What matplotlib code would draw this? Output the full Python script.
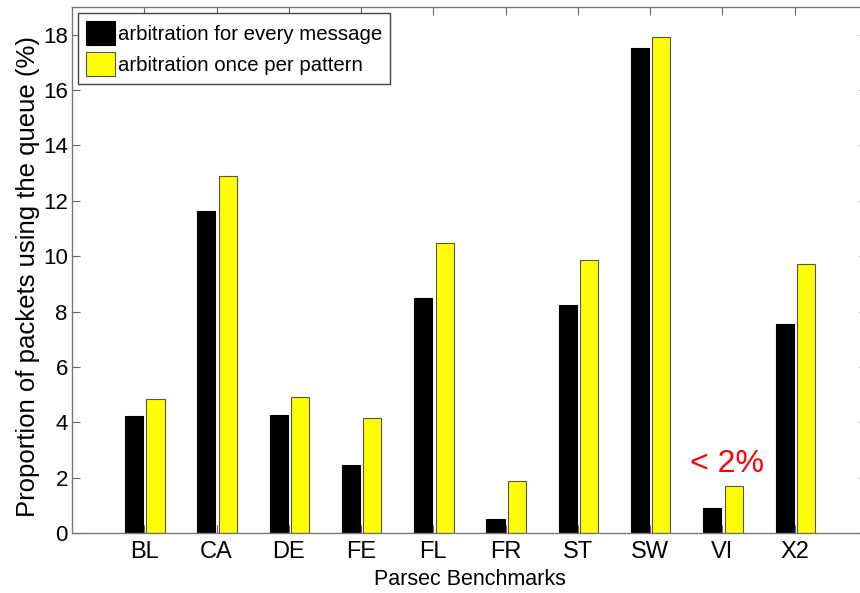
import numpy as np
import matplotlib.pyplot as plt

benchmarks = ["BL", "CA", "DE", "FE", "FL", "FR", "ST", "SW", "VI", "X2"]
every_message = [4.22, 11.62, 4.26, 2.45, 8.48, 0.5, 8.22, 17.53, 0.9, 7.54]
once_per_pattern = [4.83, 12.9, 4.9, 4.15, 10.46, 1.88, 9.85, 17.9, 1.7, 9.7]
yticks = [0, 2, 4, 6, 8, 10, 12, 14, 16, 18]

font = ["Liberation Sans", "DejaVu Sans"]
plt.rcParams["font.family"] = font

fig = plt.figure(figsize=(8.6, 5.93), dpi=100)
ax = fig.add_axes([72 / 860, 60 / 593, 795 / 860, 526 / 593])

x = np.arange(1, len(benchmarks) + 1)
w = 0.25
ax.bar(x - 0.14, every_message, w, color="black", edgecolor="black",
       linewidth=0.8, label="arbitration for every message")
ax.bar(x + 0.155, once_per_pattern, w, color="#ffff00", edgecolor="#555555",
       linewidth=0.8, label="arbitration once per pattern")

ax.set_xlim(0, 11)
ax.set_ylim(0, 19)
ax.set_xticks(x)
ax.set_xticklabels(benchmarks, fontsize=17)
ax.set_yticks(yticks)
ax.set_yticklabels([str(t) for t in yticks], fontsize=16)
ax.tick_params(direction="in", length=6, color="#666666", top=True, right=True)
ax.tick_params(axis="x", pad=6)
ax.tick_params(axis="y", pad=3)
for s in ax.spines.values():
    s.set_color("#777777")
    s.set_linewidth(1.0)

ax.set_xlabel("Parsec Benchmarks", fontsize=15.5, labelpad=4)
ax.set_ylabel("Proportion of packets using the queue (%)", fontsize=18.5)
ax.yaxis.set_label_coords(-0.04, 0.487)

ax.text(9.06, 2.48, "< 2%", color="red", fontsize=23,
        ha="center", va="center")

leg = ax.legend(loc="upper left", prop={"size": 14.7},
                fancybox=False, framealpha=1, edgecolor="#444444",
                borderaxespad=0.27, handlelength=1.42, handleheight=1.45,
                handletextpad=0.15, labelspacing=0.35, borderpad=0.4)
leg.get_frame().set_linewidth(1.0)

fig.savefig("out.png", dpi=100)
